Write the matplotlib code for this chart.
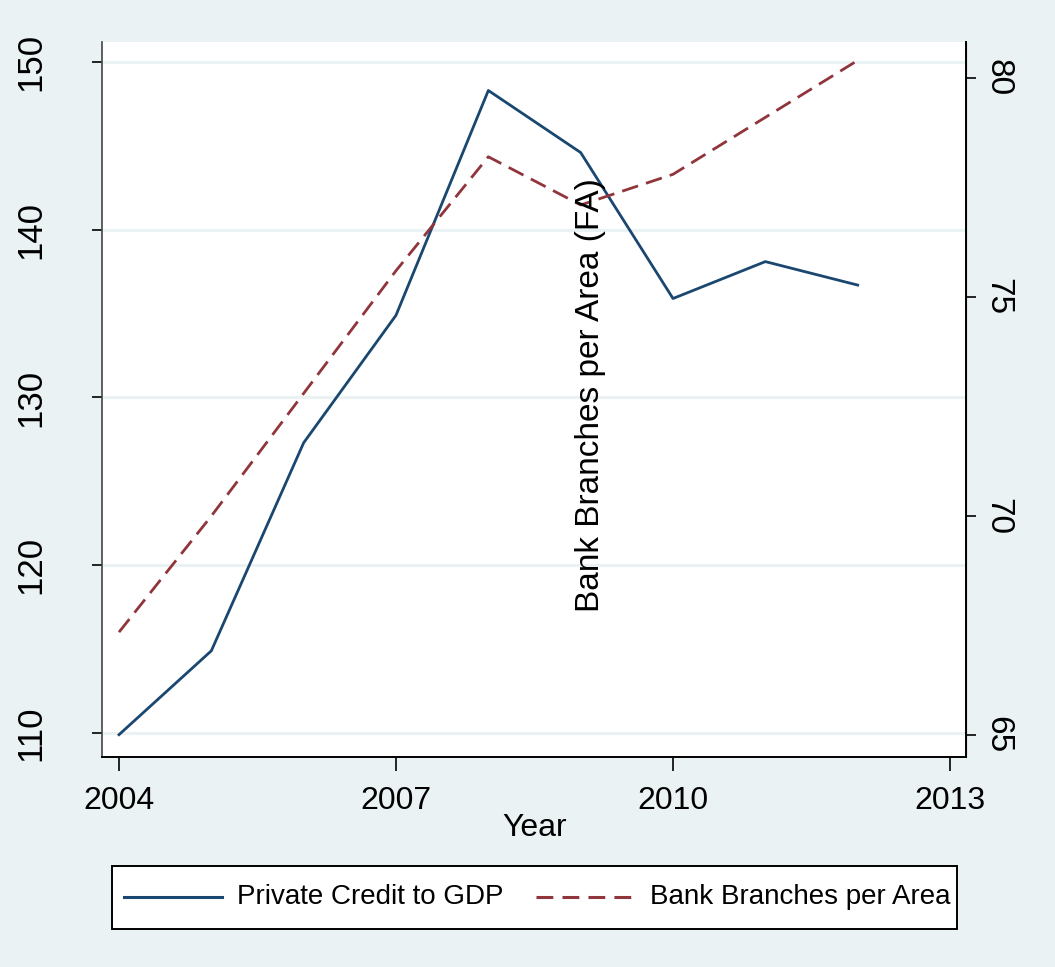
import matplotlib
matplotlib.use("Agg")
import matplotlib.pyplot as plt
from matplotlib.lines import Line2D
from matplotlib.patches import Rectangle

# Series by year
years = [2004, 2005, 2006, 2007, 2008, 2009, 2010, 2011, 2012]
private_credit = [109.9, 114.9, 127.3, 134.9, 148.3, 144.6, 135.9, 138.1, 136.7]
bank_branches = [67.35, 70.0, 72.8, 75.6, 78.2, 77.1, 77.8, 79.1, 80.4]

x_ticks = [2004, 2007, 2010, 2013]
left_ticks = [110, 120, 130, 140, 150]
right_ticks = [65, 70, 75, 80]
series_names = ["Private Credit to GDP", "Bank Branches per Area"]

BG = "#eaf2f3"
NAVY = "#1a476f"
MAROON = "#90353b"
W, H = 1055, 967

plt.rcParams["font.family"] = ["Liberation Sans", "DejaVu Sans"]

fig = plt.figure(figsize=(W / 100, H / 100), dpi=100, facecolor=BG)

def px_box(x0, y0, x1, y1):
    return [x0 / W, 1 - y1 / H, (x1 - x0) / W, (y1 - y0) / H]

def fx(x):
    return x / W

def fy(y):
    return 1 - y / H

ax = fig.add_axes(px_box(102, 42, 966, 757))
ax.set_facecolor("white")
ax.plot(years, private_credit, color=NAVY, lw=2.0, zorder=3)
ax.set_xlim(2003.816, 2013.173)
ax.set_ylim(108.57, 151.19)
ax.set_yticks(left_ticks)
ax.set_xticks(x_ticks)
ax.grid(axis="y", color=BG, lw=2.2, zorder=0)
ax.set_axisbelow(True)

ax2 = ax.twinx()
ax2.plot(years, bank_branches, color=MAROON, lw=2.0, dashes=(6, 3), zorder=3)
ax2.set_ylim(64.50, 80.82)
ax2.set_yticks(right_ticks)

for a in (ax, ax2):
    a.spines["top"].set_visible(False)
ax.spines["left"].set_color("#444444")
ax.spines["left"].set_linewidth(1.2)
ax.spines["bottom"].set_linewidth(1.4)
ax2.spines["right"].set_linewidth(1.4)
ax2.spines["left"].set_visible(False)
ax2.spines["bottom"].set_visible(False)

ax.tick_params(axis="y", length=7, width=1.2, pad=32, labelsize=25)
for lab in ax.get_yticklabels():
    lab.set_rotation(90)
    lab.set_va("center")
ax2.tick_params(axis="y", length=7, width=1.2, pad=5, labelsize=24)
for lab in ax2.get_yticklabels():
    lab.set_rotation(270)
    lab.set_va("center")
ax.tick_params(axis="x", length=10, width=1.2, pad=11, labelsize=23)

fig.text(fx(535), fy(828), "Year", ha="center", va="center", fontsize=23)
fig.text(fx(590), fy(395), "Bank Branches per Area (FA)", rotation=90,
         ha="center", va="center", fontsize=24)

# Legend panel below the plot, laid out by hand
fig.add_artist(Rectangle((fx(112), fy(929)), fx(957) - fx(112), fy(866) - fy(929),
                         transform=fig.transFigure, facecolor="white",
                         edgecolor="black", lw=1.4))
key_y = fy(897)
fig.add_artist(Line2D([fx(124), fx(222)], [key_y, key_y], color=NAVY, lw=2.2,
                      transform=fig.transFigure))
fig.add_artist(Line2D([fx(536), fx(633)], [key_y, key_y], color=MAROON, lw=2.2,
                      dashes=(5.5, 3), transform=fig.transFigure))
fig.text(fx(237), key_y, series_names[0], ha="left", va="center", fontsize=20)
fig.text(fx(650), key_y, series_names[1], ha="left", va="center", fontsize=20)

fig.savefig("out.png", dpi=100, facecolor=BG)
